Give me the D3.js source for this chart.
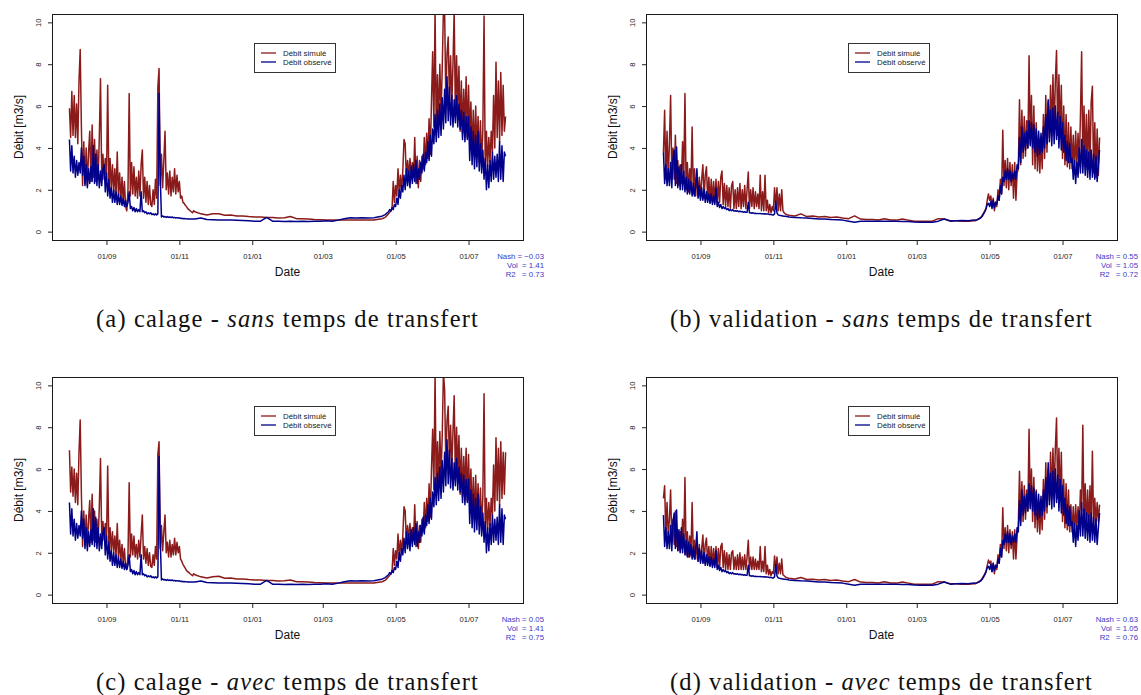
<!DOCTYPE html>
<html>
<head>
<meta charset="utf-8">
<script src="https://cdn.jsdelivr.net/npm/d3@7"></script>
<style>
  body { margin: 0; background: #fff; }
  text { font-family: "Liberation Sans", Arial, sans-serif; }
  text.caption { font-family: "Liberation Serif", "Times New Roman", serif; }
</style>
</head>
<body>
<script>
// sampling: daily from 1 Aug to mid Nov, every 5 days over winter, daily from late Apr to 1 Aug
var days = d3.range(0, 105).concat(d3.range(105, 261, 5), d3.range(261, 366));
var start = new Date(2006, 7, 1), end = new Date(2007, 7, 1);

var tickDates = ["2006-09-01", "2006-11-01", "2007-01-01", "2007-03-01", "2007-05-01", "2007-07-01"];
var yTicks = [0, 2, 4, 6, 8, 10];

// observed discharge, calage period (a, c)
var obsCal = [
  4.4,2.9,4.1,2.8,3.6,2.6,3.4,2.7,3.3,2.8, 4.0,2.7,3.6,2.2,3.2,2.1,3.0,2.3,3.1,2.4,
  4.1,2.3,3.7,2.2,3.2,2.1,2.9,2.2,3.0,3.2, 1.9,2.8,1.7,2.5,1.6,2.1,1.4,2.0,1.4,1.9,
  1.3,1.8,1.3,1.7,1.25,1.6,1.2,1.5,1.2,1.4, 1.9,1.1,1.2,1.0,1.15,0.95,1.1,0.95,1.05,0.95,
  1.9,0.95,1.0,0.9,0.95,0.85,0.9,0.85,0.9,0.82, 0.85,0.8,0.85,0.8,0.85,6.6,2.6,0.7,0.75,0.7,
  0.72,0.68,0.72,0.68,0.7,0.67,0.7,0.66,0.68,0.65, 0.67,0.65,0.66,0.63,0.64,0.62,0.63,0.61,0.62,0.6,
  0.61,0.6,0.6,0.6,0.6,
  // winter
  0.6,0.65,0.58,0.57,0.56,0.55,0.55,0.54,0.53,0.52, 0.5,0.5,0.68,0.5,0.5,0.48,0.5,0.48,0.5,0.48,
  0.5,0.5,0.52,0.5,0.55,0.62,0.66,0.65,0.66,0.65, 0.66,0.72,
  // spring / summer
  0.72,0.75,0.78,0.8,0.85,0.9,0.95,1.05,0.98,1.15, 1.05,1.3,1.2,1.6,1.3,2.0,1.6,2.2,1.9,2.7,
  2.0,3.0,2.2,2.9,2.1,3.1,2.3,3.2,2.4,3.4, 2.3,3.0,2.5,3.3,2.8,3.7,2.9,3.8,3.3,4.3,
  3.4,4.6,3.6,4.9,4.2,5.6,4.3,5.8,4.5,6.1, 4.6,6.4,4.9,6.8,5.2,7.4,5.3,6.9,5.1,6.5,
  5.0,6.3,5.2,6.5,5.0,6.1,4.9,5.8,4.4,5.7, 4.3,5.5,4.4,5.5,3.4,5.0,3.2,4.8,3.0,4.6,
  3.1,4.8,2.9,4.2,2.8,3.9,2.5,3.5,2.0,3.2, 2.1,3.4,2.4,3.8,2.5,3.6,2.6,3.7,2.4,4.3,
  2.5,4.1,2.4,3.8,3.6
];

// simulated, calage, sans temps de transfert (a)
var simCalSans = [
  5.9,4.5,6.7,4.6,6.5,4.5,6.1,4.2,7.2,8.7, 5.0,2.2,4.3,2.3,4.0,2.2,3.8,4.8,2.4,5.1,
  2.6,4.4,2.4,3.9,2.5,4.5,7.3,2.6,3.7,2.5, 3.5,2.4,7.0,2.2,3.5,2.0,3.2,1.9,3.0,1.7,
  3.8,1.7,2.8,1.5,2.6,1.4,2.4,1.2,1.0,2.0, 6.6,1.7,3.3,1.8,3.1,1.7,2.6,1.6,2.9,1.7,
  3.2,3.9,1.6,2.6,1.4,2.4,1.3,2.2,1.3,1.2, 2.0,1.3,2.5,1.6,6.9,7.8,2.2,3.7,2.1,3.4,
  4.8,2.0,2.8,1.8,2.9,1.7,2.6,1.9,3.0,1.8, 2.7,1.9,2.4,1.6,1.7,1.4,1.35,1.25,1.2,1.1,
  1.05,1.0,0.95,0.9,1.0,
  0.95,0.85,0.8,0.85,0.85,0.78,0.8,0.75,0.75,0.72, 0.7,0.7,0.68,0.68,0.65,0.66,0.72,0.62,0.62,0.6,
  0.58,0.57,0.56,0.56,0.55,0.55,0.55,0.55,0.55,0.55, 0.56,0.6,
  0.6,0.62,0.65,0.68,0.72,0.78,0.85,0.92,1.0,1.1, 2.4,1.4,2.2,1.7,3.0,1.8,2.7,2.0,2.9,4.4,
  4.2,2.5,3.4,2.6,3.5,2.7,3.3,2.6,4.5,2.3, 3.6,2.1,3.4,2.4,3.6,3.0,4.5,3.2,4.7,3.5,
  5.4,3.7,6.2,8.6,5.0,10.6,4.6,7.5,5.2,8.0, 5.6,7.8,10.6,10.6,6.2,8.5,9.3,6.3,8.4,6.0,
  8.0,10.6,5.6,8.4,5.8,7.9,4.8,7.2,4.7,6.8, 4.9,7.4,4.5,7.0,4.6,6.2,3.7,5.8,3.6,6.0,
  3.8,5.5,3.3,5.3,3.2,4.9,10.3,3.0,4.8,3.1, 4.5,3.3,4.8,3.8,6.5,4.0,8.1,4.5,7.2,4.3,
  7.6,4.6,7.0,4.8,5.5
];

// simulated, calage, avec temps de transfert (c)
var simCalAvec = [
  6.9,4.9,6.1,4.7,6.0,4.4,5.8,4.3,6.8,8.35, 4.8,2.3,4.0,2.4,3.8,2.3,3.6,4.5,2.5,4.8,
  2.6,4.0,2.5,3.6,2.6,4.2,6.5,2.7,3.5,2.6, 3.4,2.5,6.15,2.3,3.2,2.1,3.0,2.0,2.8,1.8,
  3.4,1.8,2.6,1.6,2.4,1.5,2.2,1.3,1.2,1.9, 5.35,1.8,2.9,1.9,2.8,1.8,2.4,1.7,2.6,1.8,
  2.9,3.8,1.7,2.3,1.5,2.2,1.4,2.0,1.35,1.3, 1.9,1.4,2.3,1.7,6.7,7.3,2.2,3.3,2.1,3.0,
  3.8,2.0,2.5,1.8,2.6,1.8,2.4,1.9,2.7,1.9, 2.5,2.0,2.3,1.7,1.6,1.45,1.35,1.25,1.15,1.1,
  1.05,1.0,0.95,0.9,1.0,
  0.95,0.85,0.8,0.85,0.88,0.78,0.8,0.75,0.75,0.72, 0.7,0.7,0.68,0.68,0.65,0.66,0.7,0.62,0.62,0.6,
  0.58,0.57,0.56,0.56,0.55,0.55,0.55,0.55,0.55,0.55, 0.56,0.6,
  0.6,0.62,0.65,0.68,0.72,0.78,0.85,0.92,1.0,1.1, 2.2,1.4,2.1,1.7,2.9,1.8,2.6,2.0,2.8,4.2,
  4.0,2.5,3.3,2.6,3.4,2.6,3.2,2.6,4.3,2.3, 3.5,2.2,3.3,2.5,3.6,3.0,4.4,3.2,4.6,3.5,
  5.3,3.7,6.0,7.9,5.0,10.6,4.8,7.3,5.2,7.8, 5.6,7.6,10.6,9.8,6.2,8.3,9.0,6.3,8.1,6.0,
  7.8,9.5,5.6,8.0,5.8,7.6,4.8,7.0,4.7,6.6, 4.9,7.0,4.5,6.7,4.5,6.0,3.7,5.6,3.6,5.7,
  3.8,5.3,3.3,5.1,3.2,4.7,9.6,3.0,4.6,3.1, 4.4,3.3,4.6,3.8,6.2,4.0,7.5,4.5,7.0,4.3,
  7.3,4.6,6.8,4.8,6.8
];

// observed discharge, validation period (b, d)
var obsVal = [
  3.8,2.3,3.2,2.2,3.0,2.2,3.3,2.1,3.5,3.9, 2.2,4.05,2.1,3.1,2.0,3.2,2.0,2.9,1.9,2.6,
  1.8,2.5,1.8,2.4,1.7,2.3,1.7,2.2,3.0,1.6, 2.2,1.5,2.1,1.5,2.0,1.4,1.9,1.4,1.8,1.35,
  1.8,1.3,1.7,1.3,2.1,1.2,1.4,1.15,1.3,1.1, 1.2,1.1,1.15,1.05,1.1,1.0,1.05,1.0,1.05,0.98,
  1.0,0.97,1.0,0.95,0.98,0.95,0.96,0.93,0.95,0.92, 0.93,1.4,0.9,0.9,0.88,0.9,0.87,0.88,0.86,0.87,
  0.86,0.87,0.85,0.86,0.84,0.85,0.84,0.84,0.83,0.82, 0.82,0.8,0.8,0.85,1.45,0.9,0.8,0.78,0.77,0.76,
  0.75,0.74,0.73,0.72,0.72,
  0.7,0.68,0.66,0.65,0.63,0.6,0.6,0.58,0.57,0.55, 0.5,0.45,0.5,0.5,0.5,0.5,0.5,0.5,0.5,0.48,
  0.48,0.46,0.45,0.45,0.45,0.5,0.6,0.5,0.52,0.53, 0.52,0.55,
  0.55,0.56,0.58,0.6,0.63,0.68,0.75,0.85,0.95,1.1, 1.3,1.35,1.2,1.45,1.1,1.5,1.15,1.4,1.3,1.7,
  1.5,2.2,1.8,2.6,2.4,2.9,2.5,3.0,2.5,2.9, 2.4,2.8,2.5,2.9,2.5,3.2,3.0,4.5,3.3,5.0,
  3.8,4.7,3.9,4.8,4.0,5.3,4.1,5.2,4.0,5.1, 3.8,4.9,3.6,4.8,3.7,4.7,3.8,5.0,4.0,5.6,
  4.2,6.3,4.3,5.8,4.1,5.9,4.2,6.0,4.4,5.7, 4.0,5.5,3.9,5.2,3.8,4.6,3.4,4.3,3.3,4.2,
  3.3,3.5,2.5,3.4,2.3,3.3,2.6,4.0,2.8,4.4, 2.8,4.1,2.7,3.9,2.6,3.8,2.5,3.9,2.6,3.7,
  2.5,3.6,2.4,3.2,3.9
];

// simulated, validation, sans temps de transfert (b)
var simValSans = [
  3.8,5.8,2.5,4.8,2.6,4.2,6.5,2.6,4.0,2.5, 4.6,2.3,3.4,2.2,3.2,2.3,4.3,2.5,6.6,2.0,
  3.3,1.9,3.0,2.0,5.0,1.8,3.0,1.7,2.8,1.7, 2.6,1.6,2.5,3.2,1.6,2.7,3.1,1.5,2.6,1.4,
  2.5,1.4,2.4,1.4,2.5,1.3,2.4,1.4,2.6,2.9, 1.3,2.3,1.2,2.2,1.2,2.1,1.1,2.2,2.4,1.1,
  2.0,1.1,2.1,1.2,2.3,1.1,2.0,1.2,2.2,1.1, 2.0,2.85,1.1,2.0,1.2,2.1,1.1,1.9,1.2,1.8,
  1.1,2.7,1.0,1.9,1.0,2.7,1.0,1.5,0.9,1.3, 0.9,1.2,1.0,2.1,1.2,2.1,1.0,1.8,1.0,2.0,
  1.0,0.9,0.85,0.82,0.8,
  0.78,0.75,0.85,0.72,0.75,0.7,0.72,0.68,0.7,0.65, 0.62,0.75,0.6,0.58,0.58,0.56,0.62,0.56,0.55,0.6,
  0.55,0.5,0.5,0.5,0.5,0.62,0.6,0.52,0.52,0.5, 0.5,0.52,
  0.52,0.55,0.58,0.62,0.66,0.7,0.8,0.9,1.0,1.1, 1.5,1.8,1.5,1.7,1.2,1.6,1.0,1.4,1.2,2.0,
  1.5,2.5,1.8,4.85,2.2,3.4,2.1,3.5,2.0,3.3, 2.2,3.2,1.6,3.3,1.5,2.8,3.0,6.3,3.2,5.8,
  3.5,5.5,3.6,5.3,4.0,8.4,4.2,6.5,3.2,6.0, 3.0,5.2,2.9,4.5,2.8,4.4,3.0,5.6,3.5,6.5,
  3.8,6.2,4.5,7.0,4.6,7.5,4.8,7.2,8.66,4.6, 7.5,4.5,7.0,3.5,6.0,3.2,5.6,3.1,5.2,3.0,
  5.0,3.0,4.6,2.9,4.8,3.1,4.7,3.2,5.5,8.6, 3.3,6.0,3.1,5.6,3.0,5.8,3.2,6.2,6.95,2.8,
  5.2,2.6,4.9,2.7,4.5
];

// simulated, validation, avec temps de transfert (d)
var simValAvec = [
  4.6,5.2,2.8,4.4,2.9,3.6,5.0,2.5,3.6,2.4, 4.0,2.3,3.1,2.1,3.0,2.2,3.6,2.3,5.6,1.9,
  3.0,1.8,2.8,1.9,4.4,1.8,2.6,1.7,2.5,1.6, 2.4,1.6,2.2,2.85,1.5,2.4,2.7,1.5,2.3,1.4,
  2.3,1.4,2.2,1.4,2.3,1.3,2.2,1.3,2.3,2.45, 1.3,2.1,1.2,2.0,1.2,1.9,1.2,2.0,2.1,1.2,
  1.8,1.2,1.9,1.2,2.0,1.2,1.8,1.2,1.9,1.2, 1.8,2.6,1.2,1.8,1.2,1.8,1.2,1.7,1.2,1.6,
  1.2,2.3,1.1,1.6,1.1,2.3,1.0,1.4,0.95,1.2, 0.9,1.1,1.0,1.85,1.2,1.8,1.0,1.5,1.0,1.7,
  0.95,0.9,0.85,0.82,0.8,
  0.78,0.75,0.82,0.72,0.74,0.7,0.72,0.68,0.7,0.65, 0.62,0.72,0.6,0.58,0.58,0.56,0.62,0.56,0.55,0.6,
  0.55,0.5,0.5,0.5,0.5,0.62,0.6,0.52,0.52,0.5, 0.5,0.52,
  0.52,0.55,0.58,0.62,0.66,0.7,0.8,0.9,1.0,1.1, 1.4,1.65,1.5,1.6,1.1,1.5,1.0,1.4,1.2,1.9,
  1.5,2.4,1.8,4.15,2.2,3.2,2.1,3.3,2.0,3.1, 2.2,3.0,1.7,3.1,1.7,2.8,3.3,5.9,3.5,5.4,
  3.5,5.2,3.6,5.0,4.0,7.9,4.2,6.0,3.5,5.6, 3.2,5.0,3.0,4.5,2.9,4.4,3.1,5.5,3.6,6.3,
  3.9,6.0,4.5,6.8,4.6,7.0,4.8,7.0,8.44,4.6, 7.0,4.5,6.8,3.5,5.5,3.2,5.3,3.1,5.0,3.0,
  4.3,3.0,4.2,2.9,4.3,3.1,4.2,3.2,5.0,4.0, 8.1,3.3,5.3,3.1,5.0,3.2,5.2,3.3,6.85,3.3,
  4.6,3.4,4.4,3.5,4.3
];

var nash = [-0.03, 0.55, 0.05, 0.63];
var vol = [1.41, 1.05, 1.41, 1.05];
var r2 = [0.73, 0.72, 0.75, 0.76];
var captions = [
  ["(a) calage - ", "sans", " temps de transfert"],
  ["(b) validation - ", "sans", " temps de transfert"],
  ["(c) calage - ", "avec", " temps de transfert"],
  ["(d) validation - ", "avec", " temps de transfert"]
];
var legendLabels = ["Débit simulé", "Débit observé"];

var simColor = "#8b1a1a", obsColor = "#00008b", statColor = "#3a3ac6";

var panels = [
  { sim: simCalSans, obs: obsCal, left: 52, top: 14, capW: 383 },
  { sim: simValSans, obs: obsVal, left: 646, top: 14, capW: 423 },
  { sim: simCalAvec, obs: obsCal, left: 52, top: 377, capW: 383 },
  { sim: simValAvec, obs: obsVal, left: 646, top: 377, capW: 423 }
];

var W = 471, H = 226;
var dates = days.map(function (d) { return d3.timeDay.offset(start, d); });
var parse = d3.timeParse("%Y-%m-%d");

var span = end - start;
var x = d3.scaleTime()
    .domain([new Date(+start - 0.04 * span), new Date(+end + 0.04 * span)])
    .range([0, W]);
var y = d3.scaleLinear().domain([-0.4, 10.4]).range([H, 0]);

var line = d3.line()
    .x(function (d, i) { return x(dates[i]); })
    .y(function (d) { return y(d); });

var svg = d3.select("body").append("svg")
    .attr("width", 1141)
    .attr("height", 695);

svg.append("defs").append("clipPath").attr("id", "plotclip")
    .append("rect").attr("width", W).attr("height", H);

panels.forEach(function (p, k) {
    var g = svg.append("g").attr("transform", "translate(" + p.left + "," + p.top + ")");

    var lines = g.append("g").attr("clip-path", "url(#plotclip)");
    lines.append("path")
        .datum(p.sim)
        .attr("fill", "none")
        .attr("stroke", simColor)
        .attr("stroke-width", 1.5)
        .attr("stroke-linejoin", "round")
        .attr("d", line);
    lines.append("path")
        .datum(p.obs)
        .attr("fill", "none")
        .attr("stroke", obsColor)
        .attr("stroke-width", 1.5)
        .attr("stroke-linejoin", "round")
        .attr("d", line);

    g.append("rect")
        .attr("width", W).attr("height", H)
        .attr("fill", "none").attr("stroke", "#1a1a1a").attr("stroke-width", 1)
        .attr("shape-rendering", "crispEdges");

    // x axis
    g.append("g")
        .attr("transform", "translate(0," + H + ")")
        .attr("color", "#222")
        .call(d3.axisBottom(x)
            .tickValues(tickDates.map(parse))
            .tickFormat(d3.timeFormat("%d/%m"))
            .tickSize(5))
        .call(function (a) {
            a.select(".domain").remove();
            a.selectAll("text").attr("y", 19).attr("dy", null).attr("font-size", 7.6);
        });

    // y axis
    g.append("g")
        .attr("color", "#222")
        .call(d3.axisLeft(y).tickValues(yTicks).tickFormat(d3.format("d")).tickSize(4))
        .call(function (a) {
            a.select(".domain").remove();
            a.selectAll("text")
                .attr("transform", "rotate(-90)")
                .attr("x", 0).attr("y", -11).attr("dy", null)
                .attr("text-anchor", "middle")
                .attr("font-size", 7.6);
        });

    g.append("text")
        .attr("x", W / 2).attr("y", H + 36)
        .attr("text-anchor", "middle")
        .attr("font-size", 12).attr("fill", "#111")
        .text("Date");

    g.append("text")
        .attr("transform", "translate(-29.5," + (H / 2) + ") rotate(-90)")
        .attr("text-anchor", "middle")
        .attr("font-size", 12).attr("fill", "#111")
        .text("Débit [m3/s]");

    // legend
    var lg = g.append("g").attr("transform", "translate(202,29)");
    lg.append("rect").attr("width", 81).attr("height", 29)
        .attr("fill", "#fff").attr("stroke", "#333").attr("stroke-width", 1)
        .attr("shape-rendering", "crispEdges");
    [simColor, obsColor].forEach(function (c, i) {
        lg.append("line")
            .attr("x1", 7).attr("x2", 22)
            .attr("y1", 10 + i * 9).attr("y2", 10 + i * 9)
            .attr("stroke", c).attr("stroke-width", 1.3);
        lg.append("text")
            .attr("x", 29).attr("y", 13 + i * 9)
            .attr("font-size", 7.9).attr("fill", "#222")
            .text(legendLabels[i]);
    });

    // fit criteria
    var stats = [
        "Nash = " + d3.format(".2f")(nash[k]).replace("-", "\u2212"),
        "Vol  = " + d3.format(".2f")(vol[k]),
        "R2   = " + d3.format(".2f")(r2[k])
    ];
    stats.forEach(function (s, i) {
        g.append("text")
            .attr("x", W + 21).attr("y", H + 19 + i * 9)
            .attr("text-anchor", "end")
            .attr("font-size", 7.8).attr("fill", statColor)
            .style("white-space", "pre")
            .text(s);
    });

    // caption
    var cap = g.append("text")
        .attr("class", "caption")
        .attr("x", W / 2).attr("y", 313)
        .attr("text-anchor", "middle")
        .attr("font-size", 24.5).attr("fill", "#111");
    cap.append("tspan").text(captions[k][0]);
    cap.append("tspan").attr("font-style", "italic").text(captions[k][1]);
    cap.append("tspan").text(captions[k][2]);
    var len = cap.node().getComputedTextLength();
    var n = captions[k].join("").length;
    cap.attr("letter-spacing", Math.max(0, (p.capW - len) / n).toFixed(2));
});
</script>
</body>
</html>
